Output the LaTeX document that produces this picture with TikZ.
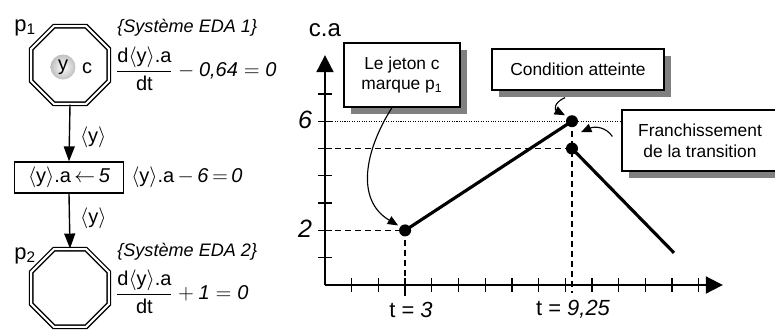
\documentclass[tikz,border=0pt]{standalone}
\usepackage{amsmath}
\usepackage{fontspec}
\setmainfont{Liberation Sans}
\usetikzlibrary{shapes.geometric,arrows.meta,shadows}
\newlength\pxu
\setlength\pxu{0.575pt}
\tikzset{
  place/.style={regular polygon,regular polygon sides=8,draw,double,line width=0.8pt,double distance=1.15pt,minimum size=84\pxu,inner sep=0pt},
  trans/.style={draw,line width=0.75pt,minimum width=109\pxu,minimum height=31\pxu,inner sep=0pt},
  note/.style={draw,fill=white,line width=0.7pt,align=center,inner sep=0pt,font=\fontsize{10}{12}\selectfont,drop shadow={shadow xshift=4pt,shadow yshift=-4pt,fill=gray,opacity=1}},
  txt/.style={inner sep=0pt,font=\fontsize{11.5}{13}\selectfont},
  eda/.style={inner sep=0pt,anchor=west,font=\fontsize{10.4}{12}\selectfont\itshape},
  arc/.style={line width=0.8pt,-{Triangle[length=8.6pt,width=6.3pt]}},
  axis/.style={line width=1.1pt,-{Triangle[length=9.8pt,width=9.8pt]}},
  tickmark/.style={line width=0.75pt},
  guide/.style={line width=0.9pt,dash pattern=on 3.45pt off 2.3pt},
  level/.style={line width=0.6pt,dash pattern=on 0.6pt off 0.8pt},
  curve/.style={line width=1.8pt},
  dot/.style={circle,fill=black,minimum size=12\pxu,inner sep=0pt},
  pointer/.style={line width=0.65pt,-{Triangle[length=6pt,width=5pt]}},
}
\begin{document}
\begin{tikzpicture}[x=\pxu,y=-\pxu]
  \useasboundingbox (0,0) rectangle (775,329);
  % places, transition and equations
  \node[place] (p1) at (70,65) {};
  \node[place] (p2) at (70,288) {};
  \node[trans,txt] (t1) at (69,177.5) {$\langle$y$\rangle$.a$\,\leftarrow\,$\textit{5}};
  \node[txt,anchor=base west,font=\fontsize{12.6}{14}\selectfont] (p1lab) at (14,31) {p\textsubscript{1}};
  \node[txt,anchor=base west,font=\fontsize{12.6}{14}\selectfont] (p2lab) at (14,259) {p\textsubscript{2}};
  \node[circle,shading=radial,inner color=white,outer color=gray!50,minimum size=25\pxu,txt] (tok) at (63,67) {y};
  \node[txt] (tokc) at (87,68) {c};
  \draw[arc] (p1.south) -- node[txt,pos=0.58,anchor=west,xshift=5.75pt] (y1) {$\langle$y$\rangle$} (t1.north);
  \draw[arc] (t1.south) -- node[txt,pos=0.45,anchor=west,xshift=5.75pt] (y2) {$\langle$y$\rangle$} (p2.north);
  \node[eda] (eda1) at (117,27.5) {\{Système EDA 1\}};
  \node[eda] (eda2) at (117,252) {\{Système EDA 2\}};
  \node[txt,anchor=west] (eq1) at (115,69) {$\dfrac{\mbox{d$\langle$y$\rangle$.a}}{\mbox{dt}}-\mbox{\itshape 0,64}=\mbox{\itshape 0}$};
  \node[txt,anchor=west] (eq2) at (115,292) {$\dfrac{\mbox{d$\langle$y$\rangle$.a}}{\mbox{dt}}+\mbox{\itshape 1}=\mbox{\itshape 0}$};
  \node[txt,anchor=west] (guard) at (131,177.5) {$\langle$y$\rangle$.a$\,-\,$\textit{6}$\,=\,$\textit{0}};
  % chart
  \begin{scope}[shift={(325,285)},x=26.7\pxu,y=27.3\pxu]
    \coordinate (A) at (3,2);
    \coordinate (B) at (9.25,6);
    \coordinate (C) at (9.25,5);
    \coordinate (D) at (13.07,1.18);
    \draw[level] (0,6) -- (11.2,6);
    \draw[guide] (0,2) -- (A) -- (3,-0.44);
    \draw[guide] (0,5) -- (C);
    \draw[guide] (B) -- (9.25,-0.3);
    \foreach \k in {1,...,7} \draw[tickmark] (0,\k) ++(-4pt,0pt) -- ++(8pt,0pt);
    \foreach \k in {1,...,14} \draw[tickmark] (\k,0) ++(0pt,-4pt) -- ++(0pt,8pt);
    \draw[axis] (0,0) -- (0,8.42);
    \draw[axis] (0,0) -- (14.9,0);
    \draw[curve] (A) -- (B);
    \draw[curve] (C) -- (D);
    \foreach \p in {A,B,C} \node[dot] (dot\p) at (\p) {};
    \node[font=\fontsize{14.4}{16}\selectfont\itshape] (v6) at (-0.75,6.04) {6};
    \node[font=\fontsize{14.4}{16}\selectfont\itshape] (v2) at (-0.75,2.05) {2};
    \node[font=\fontsize{13.8}{16}\selectfont] (ca) at (0,9.34) {c.a};
    \node[font=\fontsize{12.6}{14}\selectfont] (tA) at (3.22,-0.9) {t = \textit{3}};
    \node[font=\fontsize{12.6}{14}\selectfont] (tB) at (9.29,-0.9) {t = \textit{9,25}};
  \end{scope}
  % comments
  \node[note,minimum width=116\pxu,minimum height=64\pxu] (jeton) at (402,75) {Le jeton c\\marque p\textsubscript{1}};
  \node[note,minimum width=172\pxu,minimum height=41\pxu] (cond) at (578,69.5) {Condition atteinte};
  \node[note,minimum width=156\pxu,minimum height=61\pxu] (franch) at (700,140.5) {Franchissement\\de la transition};
  \draw[pointer] ([xshift=-5.75pt]jeton.south) .. controls (365,150) and (355,200) .. ([shift={(-7,-5)}]A);
  \draw[pointer] ([shift={(-13,7)}]cond.south) .. controls (553,103) and (555,110) .. ([shift={(-7,-6)}]B);
  \draw[pointer] ([shift={(-9,-4)}]franch.west) .. controls (606,127) and (595,126) .. ([shift={(9,11)}]B);
\end{tikzpicture}
\end{document}
